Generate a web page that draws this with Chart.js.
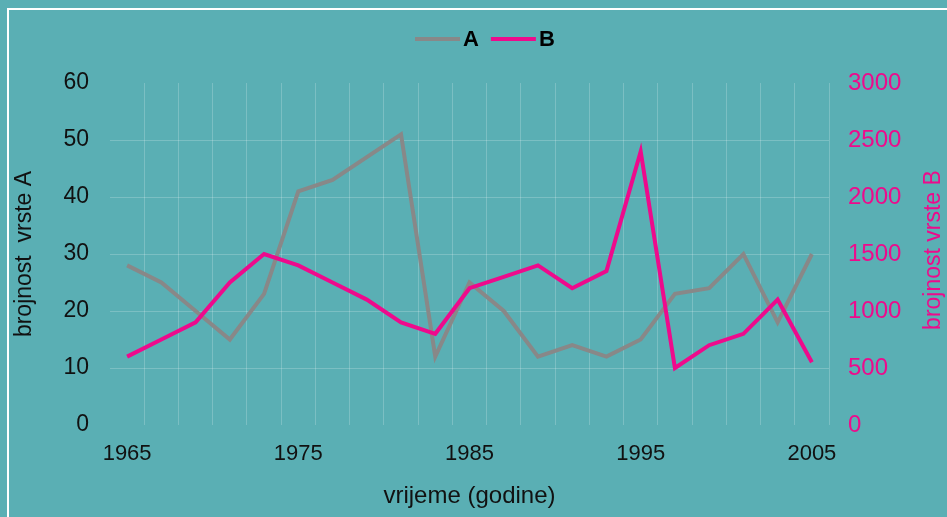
<!DOCTYPE html>
<html>
<head>
<meta charset="utf-8">
<script src="https://cdn.jsdelivr.net/npm/chart.js@4/dist/chart.umd.min.js"></script>
<style>
html,body{margin:0;padding:0;background:#5aafb4;}
#wrap{width:947px;height:517px;position:relative;}
</style>
</head>
<body>
<div id="wrap"><canvas id="c" width="947" height="517"></canvas></div>
<script>
const years = ['1965','1967','1969','1971','1973','1975','1977','1979','1981','1983','1985','1987','1989','1991','1993','1995','1997','1999','2001','2003','2005'];
const shownYears = ['1965','1975','1985','1995','2005'];
const seriesA = [28,25,20,15,23,41,43,47,51,12,25,20,12,14,12,15,23,24,30,18,30];
const seriesB = [600,750,900,1250,1500,1400,1250,1100,900,800,1200,1300,1400,1200,1350,2400,500,700,800,1100,550];
const seriesNames = ['A','B'];
const axisTitles = ['vrijeme (godine)','brojnost  vrste A','brojnost vrste B'];

const BG = '#5aafb4';
const GRAY = '#888888';
const PINK = '#ee0a8c';
const GRID = 'rgba(255,255,255,0.2)';
const FONT = '"Liberation Sans", Arial, sans-serif';

const decor = {
  id: 'decor',
  beforeDraw(chart) {
    const ctx = chart.ctx;
    ctx.save();
    ctx.fillStyle = BG;
    ctx.fillRect(0, 0, chart.width, chart.height);
    ctx.strokeStyle = '#ffffff';
    ctx.lineWidth = 2;
    ctx.beginPath();
    ctx.moveTo(8, 517);
    ctx.lineTo(8, 9);
    ctx.lineTo(947, 9);
    ctx.stroke();
    ctx.restore();
  },
  afterDraw(chart) {
    const ctx = chart.ctx;
    ctx.save();
    // legend
    let x = 415;
    const y = 39;
    ctx.font = 'bold 22px ' + FONT;
    ctx.textBaseline = 'middle';
    ctx.textAlign = 'left';
    chart.data.datasets.forEach((ds) => {
      ctx.strokeStyle = ds.borderColor;
      ctx.lineWidth = 4;
      ctx.beginPath();
      ctx.moveTo(x, y);
      ctx.lineTo(x + 45, y);
      ctx.stroke();
      x += 48;
      ctx.fillStyle = '#000';
      ctx.fillText(ds.label, x, y + 1);
      x += ctx.measureText(ds.label).width + 12;
    });
    // right axis title, reading bottom-to-top
    const area = chart.chartArea;
    ctx.translate(934, (area.top + area.bottom) / 2 - 4);
    ctx.rotate(-Math.PI / 2);
    ctx.font = '23px ' + FONT;
    ctx.fillStyle = PINK;
    ctx.textAlign = 'center';
    ctx.textBaseline = 'middle';
    ctx.fillText(axisTitles[2], 0, 0);
    ctx.restore();
  }
};

new Chart(document.getElementById('c'), {
  type: 'line',
  data: {
    labels: years,
    datasets: [
      { label: seriesNames[0], data: seriesA, yAxisID: 'yA', borderColor: GRAY, backgroundColor: GRAY, borderWidth: 4, pointRadius: 0, tension: 0, order: 1 },
      { label: seriesNames[1], data: seriesB, yAxisID: 'yB', borderColor: PINK, backgroundColor: PINK, borderWidth: 4, pointRadius: 0, tension: 0, order: 0 }
    ]
  },
  options: {
    responsive: false,
    devicePixelRatio: 1,
    animation: false,
    layout: { padding: { top: 83, left: 0, right: 0, bottom: 0 } },
    plugins: { legend: { display: false }, tooltip: { enabled: false } },
    scales: {
      x: {
        type: 'category',
        offset: true,
        afterFit(s) { s.height = 92; },
        grid: {
          offset: true,
          drawTicks: false,
          lineWidth: 1,
          color: (c) => (c.index === 0 || c.index === years.length) ? 'rgba(0,0,0,0)' : GRID
        },
        border: { display: false },
        ticks: {
          autoSkip: false,
          maxRotation: 0,
          padding: 16,
          color: '#111',
          font: { family: FONT, size: 22 },
          callback: function(v, i) { const l = this.getLabelForValue(v); return shownYears.includes(l) ? l : ''; }
        },
        title: { display: true, text: axisTitles[0], color: '#111', font: { family: FONT, size: 24 }, padding: { top: 0, bottom: 6 } }
      },
      yA: {
        position: 'left',
        min: 0, max: 60,
        afterFit(s) { s.width = 110; },
        grid: {
          drawTicks: false,
          color: (c) => (c.tick && (c.tick.value === 0 || c.tick.value === 60)) ? 'rgba(0,0,0,0)' : GRID
        },
        border: { display: false },
        ticks: { stepSize: 10, padding: 21, color: '#111', font: { family: FONT, size: 23 }, callback: (v) => String(v) },
        title: { display: true, text: axisTitles[1], color: '#111', font: { family: FONT, size: 23 }, padding: { top: 11, bottom: 0 } }
      },
      yB: {
        position: 'right',
        min: 0, max: 3000,
        afterFit(s) { s.width = 118; },
        grid: { display: false, drawTicks: false },
        border: { display: false },
        ticks: { stepSize: 500, padding: 19, color: PINK, font: { family: FONT, size: 24 }, callback: (v) => String(v) }
      }
    }
  },
  plugins: [decor]
});
</script>
</body>
</html>
